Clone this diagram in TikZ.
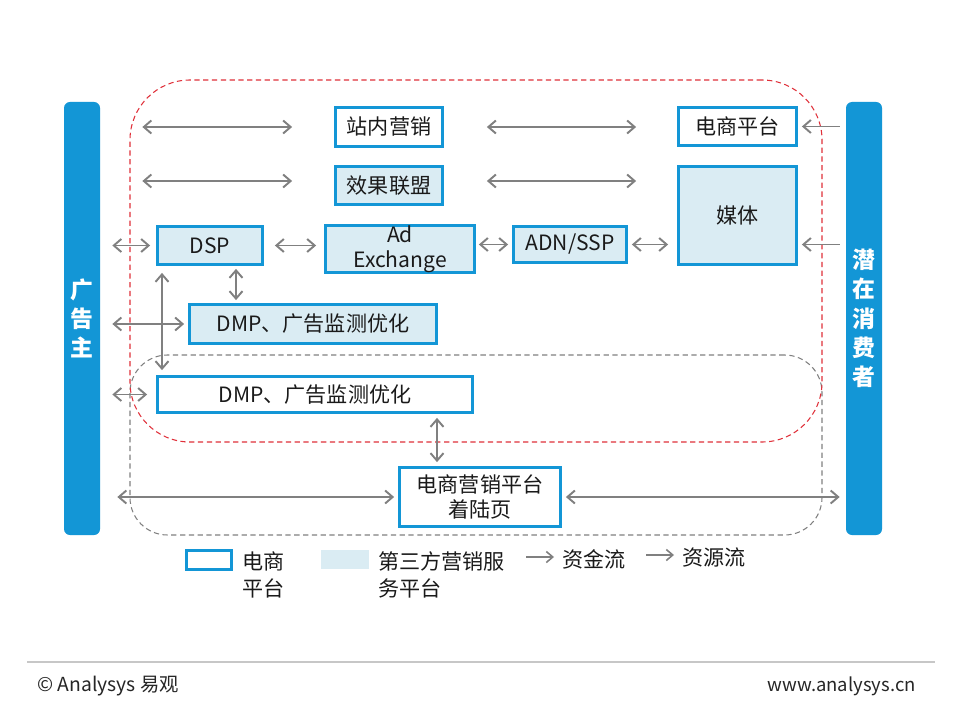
\documentclass[tikz,border=0pt]{standalone}
\usepackage{fontspec}
\usepackage{tikz}
\usetikzlibrary{arrows.meta,positioning}
\usepackage{xcolor}
\newfontfamily\cjk{Noto Sans CJK SC}
\definecolor{ayblue}{HTML}{1396D6}
\definecolor{aylight}{HTML}{DAECF3}
\definecolor{aygray}{HTML}{808080}
\definecolor{ayred}{HTML}{E0303A}
\definecolor{aytext}{HTML}{1A1A1A}
\newcommand{\boxfont}{\cjk\fontsize{12}{14.2}\selectfont}
\newcommand{\barfont}{\cjk\bfseries\fontsize{13}{16.6}\selectfont}
\newcommand{\legfont}{\cjk\fontsize{12}{15.4}\selectfont}
\newcommand{\footfont}{\cjk\fontsize{10.5}{12}\selectfont}
\tikzset{
  ecbox/.style  ={draw=ayblue, line width=1.6pt, fill=white, inner sep=0pt,
                  font=\boxfont, text=aytext, align=center},
  svbox/.style  ={ecbox, fill=aylight},
  sidebar/.style={fill=ayblue, rounded corners=1.2mm, inner sep=0pt,
                  text=white, font=\barfont, align=center,
                  minimum width=7.2mm, minimum height=86.6mm},
  zonered/.style={draw=ayred, densely dashed, line width=0.6pt,
                  rounded corners=12mm, inner sep=0pt},
  zonegray/.style={draw=aygray, densely dashed, line width=0.6pt,
                  rounded corners=7.5mm, inner sep=0pt},
  flow/.style   ={{Straight Barb[length=1.5mm,width=2.6mm]}-{Straight Barb[length=1.5mm,width=2.6mm]},
                  line width=1.1pt, aygray},
  toflow/.style ={-{Straight Barb[length=1.5mm,width=2.6mm]},
                  line width=1.1pt, aygray},
  keyflow/.style={-{Straight Barb[length=1.3mm,width=2.2mm]},
                  line width=0.9pt, aygray},
  legtext/.style={font=\legfont, text=aytext, inner sep=1pt, align=left},
  foot/.style   ={font=\footfont, text=black!85, inner sep=0pt},
}
\begin{document}
\begin{tikzpicture}[x=0.2mm, y=-0.2mm]
  \useasboundingbox[fill=white] (0,0) rectangle (960,720);
  \node[zonegray, minimum width=138.4mm, minimum height=36mm] (offline) at (476,445) {};
  \node[zonered, minimum width=138.4mm, minimum height=72.4mm] (online) at (476,261) {};
  \node[sidebar] (adv) at (82,318.5) {广\\告\\主};
  \node[sidebar] (con) at (864,318.5) {潜\\在\\消\\费\\者};
  \node[ecbox, minimum width=21.4mm, minimum height=7.8mm] (zn) at (389,127) {站内营销};
  \node[svbox, minimum width=21.4mm, minimum height=7.6mm] (xg) at (389,185.5) {效果联盟};
  \node[ecbox, minimum width=23.6mm, minimum height=7.6mm] (ec) at (737.5,126.5) {电商平台};
  \node[svbox, minimum width=23.6mm, minimum height=19.6mm] (media) at (737.5,215.5) {媒体};
  \node[svbox, minimum width=21mm, minimum height=7.6mm] (dsp) at (210,245.5) {DSP};
  \node[svbox, minimum width=29.8mm, minimum height=9mm] (adx) at (400,249) {Ad\\Exchange};
  \node[svbox, minimum width=22.6mm, minimum height=7.2mm] (adn) at (570,244.5) {ADN/SSP};
  \node[svbox, minimum width=49.4mm, minimum height=7.8mm] (dmp1) at (313,324) {DMP、广告监测优化};
  \node[ecbox, minimum width=63mm, minimum height=7.2mm] (dmp2) at (315,394.5) {DMP、广告监测优化};
  \node[ecbox, minimum width=32.2mm, minimum height=11.8mm] (land) at (480,497) {电商营销平台\\着陆页};
  \coordinate (dspl) at ([xshift=-9.6mm]dsp.south);
  \coordinate (dspr) at ([xshift=5.2mm]dsp.south);
  \coordinate (landl) at ([xshift=-8.6mm]land.north);
  \draw[flow, shorten <=8.4mm, shorten >=8.4mm] (adv.east |- zn.west) -- (zn.west);
  \draw[flow, shorten <=8.6mm, shorten >=8.2mm] (zn.east) -- (ec.west |- zn.east);
  \draw[flow, shorten <=8.4mm, shorten >=8.4mm] ([yshift=0.9mm]adv.east |- xg.west) -- ([yshift=0.9mm]xg.west);
  \draw[flow, shorten <=8.6mm, shorten >=8.2mm] ([yshift=0.9mm]xg.east) -- ([yshift=0.9mm]media.west |- xg.east);
  \draw[toflow, shorten <=1.2mm, shorten >=0.8mm] (con.west |- ec.east) -- (ec.east);
  \draw[toflow, shorten <=1.2mm, shorten >=0.8mm] (con.west |- adn.east) -- (media.east |- adn.east);
  \draw[flow, shorten <=2.4mm, shorten >=1.2mm] (adv.east |- dsp.west) -- (dsp.west);
  \draw[flow, shorten <=2.2mm, shorten >=1.6mm] (dsp.east) -- (adx.west |- dsp.east);
  \draw[flow, shorten <=0.6mm, shorten >=0.8mm] (adx.east |- adn.west) -- (adn.west);
  \draw[flow, shorten <=0.8mm, shorten >=1.8mm] (adn.east) -- (media.west |- adn.east);
  \draw[flow, shorten <=1.4mm, shorten >=1mm] (dspl) -- (dspl |- dmp2.north);
  \draw[flow, shorten <=0.6mm, shorten >=0.6mm] (dspr) -- (dspr |- dmp1.north);
  \draw[flow, shorten <=2.4mm, shorten >=0.8mm] (adv.east |- dmp1.west) -- (dmp1.west);
  \draw[flow, shorten <=2.4mm, shorten >=1.8mm] (adv.east |- dmp2.west) -- (dmp2.west);
  \draw[flow, shorten <=0.8mm, shorten >=0.8mm] (landl |- dmp2.south) -- (landl);
  \draw[flow, shorten <=3.4mm, shorten >=0.8mm] (adv.east |- land.west) -- (land.west);
  \draw[flow, shorten <=0.8mm, shorten >=1.2mm] (land.east) -- (con.west |- land.east);
  \node[ecbox, minimum width=9mm, minimum height=3.8mm] (keyec) at (209,560) {};
  \node[legtext, anchor=west] (keyectxt) at (240,575) {电商\\平台};
  \node[fill=aylight, minimum width=9.6mm, minimum height=3.8mm, inner sep=0pt] (keysv) at (345,559) {};
  \node[legtext, anchor=west] (keysvtxt) at (376,575) {第三方营销服\\务平台};
  \node[legtext, anchor=west] (keyfund) at (560,559) {资金流};
  \node[legtext, anchor=west] (keyres) at (680,557) {资源流};
  \coordinate (keyfunda) at (526,557);
  \coordinate (keyresa) at (646,555);
  \draw[keyflow, shorten >=1.2mm] (keyfunda) -- (keyfund.west |- keyfunda);
  \draw[keyflow, shorten >=1.2mm] (keyresa) -- (keyres.west |- keyresa);
  \draw[black!22, line width=0.6pt] (27,662) -- (935,662);
  \node[foot, anchor=west, font=\cjk\fontsize{11}{12}\selectfont] (copy) at (37,686) {© Analysys 易观};
  \node[foot, anchor=east] (site) at (916,686) {www.analysys.cn};
\end{tikzpicture}
\end{document}
